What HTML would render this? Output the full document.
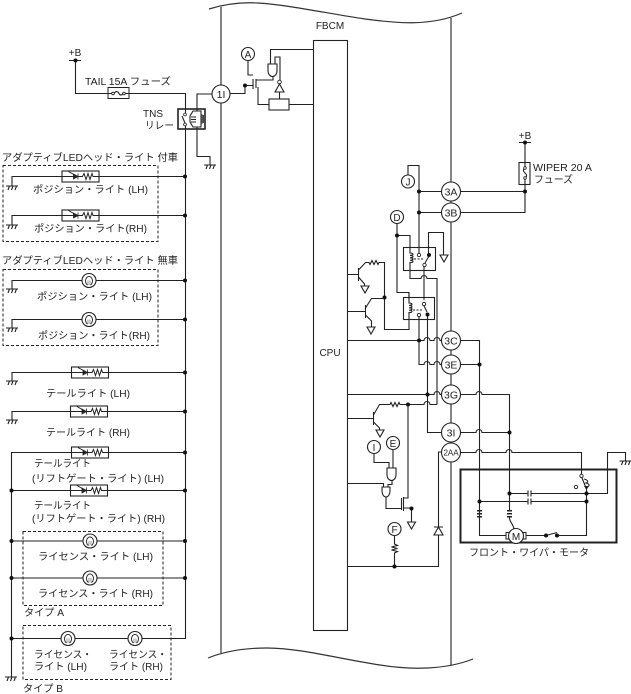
<!DOCTYPE html>
<html><head><meta charset="utf-8"><style>
html,body{margin:0;padding:0;background:#fff}
svg{display:block}
text{font-family:"Liberation Sans","Noto Sans CJK JP",sans-serif;font-size:10px;fill:#222}
.w{fill:none;stroke:#222;stroke-width:1.1}
.g{fill:none;stroke:#444;stroke-width:1.3}
.d{fill:none;stroke:#222;stroke-width:1;stroke-dasharray:3 2}
circle.n{fill:#fff;stroke:#222;stroke-width:1.1}
.c{text-anchor:middle}
.k{font-size:10.5px}
</style></head><body>
<svg width="631" height="694" viewBox="0 0 631 694" xmlns="http://www.w3.org/2000/svg">
<defs>
<g id="gnd"><path d="M-6 0H6M-4 4L-2.500 0M-0.500 4L1 0M3 4L4.500 0" fill="none" stroke="#222" stroke-width="1.100"/></g>
<g id="led">
<rect x="-18.500" y="-5.500" width="37" height="11" fill="#fff" stroke="#222" stroke-width="1.100"/>
<path d="M-18.500 0H2l1.500-3 2 6 2-6 2 6 2-6 1 3H18.500" fill="none" stroke="#222" stroke-width="1"/>
<path d="M-7-2.500V2.500L-2.500 0ZM-2.500-3V3" fill="#222" stroke="#222" stroke-width=".8"/>
<path d="M-12-5L-5-1" fill="none" stroke="#222" stroke-width="1"/>
</g>
<g id="bulb">
<circle r="7" fill="#fff" stroke="#222" stroke-width="1.100"/>
<path d="M-1.500 4.500A3.500 4.500 0 1 1 1.500 4.500" fill="#fff" stroke="#222" stroke-width=".9"/>
<path d="M-1 4.500V0M1 4.500V0" fill="none" stroke="#555" stroke-width=".6"/>
</g>
<path id="tri" d="M-4 0H4L0 7Z" fill="#fff" stroke="#222" stroke-width="1.100"/>
<circle id="dot" r="2" fill="#111"/>
</defs>

<!-- ECU body -->
<path d="M209 9C225 4 240 2 258 3C290 5 330 14 365 19C395 23 430 27 462 13" fill="none" stroke="#333" stroke-width="1.200"/>
<path d="M208 658C228 650 250 648 267 648C300 648 340 659 380 665C410 670 445 670 473 659" fill="none" stroke="#333" stroke-width="1.200"/>
<path class="g" d="M221 7V653M451 18V666"/>
<rect x="313.500" y="40.500" width="34" height="590" fill="#fff" stroke="#222" stroke-width="1.100"/>
<text x="330" y="29" class="c">FBCM</text>
<text x="330" y="356" class="c">CPU</text>

<!-- Left top wiring -->
<text x="75" y="56" class="c">+B</text>
<path class="w" d="M69 60.500H81M75.500 60.500V93.500H185.500V638.500H11.500V452M11.500 452.500H185.500M11.500 638.500V677"/>
<use href="#dot" x="75.500" y="60.500"/>
<rect x="108" y="87.500" width="21" height="11" fill="#fff" stroke="#222"/>
<path class="w" d="M108 93.500H112M125 93.500H129M114 93.500c2-3 4-2 5 0s3 2 4 0"/>
<circle cx="113" cy="93.500" r="1.300" fill="#fff" stroke="#222" stroke-width=".8"/><circle cx="124" cy="93.500" r="1.300" fill="#fff" stroke="#222" stroke-width=".8"/>
<text x="85" y="85" textLength="86" lengthAdjust="spacingAndGlyphs">TAIL 15A フューズ</text>
<text x="143" y="117">TNS</text>
<text x="145" y="129" textLength="29" lengthAdjust="spacingAndGlyphs">リレー</text>

<!-- TNS relay -->
<path class="w" d="M230 94H197V156.500H210V165"/>
<rect x="178" y="109" width="27" height="20" fill="#fff" stroke="#222" stroke-width="1.600"/>
<path class="w" d="M185.500 129V125M185.500 109V114M182 116L185 123"/>
<circle cx="185" cy="114.500" r="1.400" fill="#fff" stroke="#222" stroke-width=".8"/><circle cx="185" cy="124.500" r="1.400" fill="#fff" stroke="#222" stroke-width=".8"/>
<path class="w" d="M197 109V111H201V127H197V129M197 111H193L190 116V122L193 127H197M191 117H196M191 119.500H196M191 122H196M201 115a2.500 1 0 0 1 0 2a2.500 1 0 0 1 0 2a2.500 1 0 0 1 0 2a2.500 1 0 0 1 0 2"/>
<use href="#gnd" x="210" y="165"/>

<!-- Group 1 -->
<text x="2" y="161" textLength="176" lengthAdjust="spacingAndGlyphs">アダプティブLEDヘッド・ライト 付車</text>
<rect class="d" x="3" y="165.500" width="155" height="76"/>
<path class="w" d="M12 186V176.500H185M12 225V215.500H185"/>
<use href="#gnd" x="12" y="186"/><use href="#gnd" x="12" y="225"/>
<use href="#led" x="80.500" y="176.500"/><use href="#led" x="80.500" y="215.500"/>
<use href="#dot" x="185" y="176.500"/><use href="#dot" x="185" y="215.500"/>
<text x="33" y="193" textLength="115" lengthAdjust="spacingAndGlyphs">ポジション・ライト (LH)</text>
<text x="34" y="232" textLength="113" lengthAdjust="spacingAndGlyphs">ポジション・ライト(RH)</text>

<!-- Group 2 -->
<text x="2" y="264" textLength="176" lengthAdjust="spacingAndGlyphs">アダプティブLEDヘッド・ライト 無車</text>
<rect class="d" x="3" y="269.500" width="155" height="76"/>
<path class="w" d="M12 289V280.500H185M12 328V319.500H185"/>
<use href="#gnd" x="12" y="289"/><use href="#gnd" x="12" y="328"/>
<use href="#bulb" x="89" y="280.500"/><use href="#bulb" x="89" y="319.500"/>
<use href="#dot" x="185" y="280.500"/><use href="#dot" x="185" y="319.500"/>
<text x="37" y="300" textLength="115" lengthAdjust="spacingAndGlyphs">ポジション・ライト (LH)</text>
<text x="38" y="339" textLength="112" lengthAdjust="spacingAndGlyphs">ポジション・ライト(RH)</text>

<!-- Tail lamps -->
<path class="w" d="M12 381V372.500H185M12 420V411.500H185"/>
<use href="#gnd" x="12" y="381"/><use href="#gnd" x="12" y="420"/>
<use href="#led" x="90" y="372.500"/><use href="#led" x="89" y="411.500"/>
<use href="#dot" x="185" y="372.500"/><use href="#dot" x="185" y="411.500"/>
<text x="46" y="397" textLength="84" lengthAdjust="spacingAndGlyphs">テールライト (LH)</text>
<text x="46" y="436" textLength="84" lengthAdjust="spacingAndGlyphs">テールライト (RH)</text>
<use href="#led" x="90" y="452.500"/><use href="#dot" x="185" y="452.500"/>
<text x="34" y="467" textLength="57" lengthAdjust="spacingAndGlyphs">テールライト</text>
<text x="32" y="482" textLength="132" lengthAdjust="spacingAndGlyphs">(リフトゲート・ライト) (LH)</text>
<path class="w" d="M11.500 490.500H185"/>
<use href="#led" x="89" y="490.500"/><use href="#dot" x="11.500" y="490.500"/><use href="#dot" x="185" y="490.500"/>
<text x="34" y="509" textLength="57" lengthAdjust="spacingAndGlyphs">テールライト</text>
<text x="32" y="522" textLength="133" lengthAdjust="spacingAndGlyphs">(リフトゲート・ライト) (RH)</text>

<!-- Type A -->
<rect class="d" x="23" y="531.500" width="140" height="74"/>
<path class="w" d="M11.500 541H185M11.500 578H185"/>
<use href="#bulb" x="90" y="541"/><use href="#bulb" x="90" y="578"/>
<use href="#dot" x="11.500" y="541"/><use href="#dot" x="185" y="541"/><use href="#dot" x="11.500" y="578"/><use href="#dot" x="185" y="578"/>
<text x="38" y="560" textLength="115" lengthAdjust="spacingAndGlyphs">ライセンス・ライト (LH)</text>
<text x="38" y="597" textLength="115" lengthAdjust="spacingAndGlyphs">ライセンス・ライト (RH)</text>
<text x="24" y="616" textLength="40" lengthAdjust="spacingAndGlyphs">タイプ A</text>

<!-- Type B -->
<rect class="d" x="23" y="625.500" width="148" height="54"/>
<use href="#bulb" x="68" y="638.500"/><use href="#bulb" x="135" y="638.500"/>
<use href="#dot" x="11.500" y="638.500"/>
<text x="34" y="658" textLength="58" lengthAdjust="spacingAndGlyphs">ライセンス・</text>
<text x="34" y="670" textLength="53" lengthAdjust="spacingAndGlyphs">ライト (LH)</text>
<text x="109" y="658" textLength="58" lengthAdjust="spacingAndGlyphs">ライセンス・</text>
<text x="109" y="670" textLength="54" lengthAdjust="spacingAndGlyphs">ライト (RH)</text>
<text x="23" y="692" textLength="40" lengthAdjust="spacingAndGlyphs">タイプ B</text>
<use href="#gnd" x="11" y="677"/>

<!-- Top inner circuit -->
<path class="w" d="M248 60V75H253M230 93.500H245V85.500H253M253 79V89M256 79V88M256 80H273V76M258 87V104.500H269M289 104.500H313M270.500 64V49.500H313M275 64V57H280V80M279.500 92V99"/>
<use href="#dot" x="245" y="85.500"/>
<path d="M268 64H277V71A4.500 5.500 0 0 1 268 71Z" fill="#fff" stroke="#222" stroke-width="1.100"/>
<circle cx="279.500" cy="82" r="1.800" fill="#fff" stroke="#222" stroke-width=".9"/>
<path d="M279.500 84L275 92H284Z" fill="#fff" stroke="#222" stroke-width="1.100"/>
<rect x="269" y="99" width="20" height="11" fill="#fff" stroke="#222" stroke-width="1.100"/>

<!-- Right +B -->
<text x="525" y="139" class="c">+B</text>
<path class="w" d="M519 142.500H531M525 142.500V212.500H419M525 191.500H419"/>
<use href="#dot" x="525" y="142.500"/><use href="#dot" x="525" y="191.500"/>
<rect x="519" y="162.500" width="11" height="22" fill="#fff" stroke="#222" stroke-width="1.100"/>
<path class="w" d="M525 162.500V168M525 178V184.500M525 168c-3 2-1 4 0 5s3 3 0 5"/>
<circle cx="525" cy="168" r="1.300" fill="#fff" stroke="#222" stroke-width=".8"/><circle cx="525" cy="178" r="1.300" fill="#fff" stroke="#222" stroke-width=".8"/>
<text x="533" y="171" textLength="59" lengthAdjust="spacingAndGlyphs">WIPER 20 A</text>
<text x="534" y="183" textLength="39" lengthAdjust="spacingAndGlyphs">フューズ</text>

<!-- J / D wires -->
<path class="w" d="M408 175V165.500H419V255"/>
<use href="#dot" x="419" y="191.500"/><use href="#dot" x="419" y="212.500"/>
<path class="w" d="M397 223V292.500H409V300M397 235.500H410V247M428.500 255V232.500H443.500V256"/>
<use href="#dot" x="397" y="235.500"/>
<use href="#tri" x="444" y="255"/>

<!-- Relay 1 -->
<rect x="403.500" y="247.500" width="32" height="23" fill="none" stroke="#222" stroke-width="1.100"/>
<path class="w" d="M410 247V253a3 1.200 0 0 1 0 2.400a3 1.200 0 0 1 0 2.400a3 1.200 0 0 1 0 2.400a3 1.200 0 0 1 0 2.400V278.500H421a3 3 0 0 1 6 0H437V404.500M424 264V300M429 256L425 263"/>
<path d="M414 259H423" stroke="#222" stroke-dasharray="2 1.500" fill="none"/>
<circle cx="419" cy="255" r="1.700" fill="#fff" stroke="#222" stroke-width=".9"/><use href="#dot" x="429" y="255"/>
<circle cx="424.500" cy="265" r="1.700" fill="#fff" stroke="#222" stroke-width=".9"/>

<!-- Relay 2 -->
<rect x="403.500" y="297.500" width="31" height="22" fill="none" stroke="#222" stroke-width="1.100"/>
<path class="w" d="M409 292.500V303a3 1.200 0 0 1 0 2.400a3 1.200 0 0 1 0 2.400a3 1.200 0 0 1 0 2.400a3 1.200 0 0 1 0 2.400V329.500H384.500V262.500H379l-1 2-2-4-2 4-2-4-2 4-1-2H365.500L358.500 270M424 306L427 312M419 316V364.500H424a3 3 0 0 1 6 0H434a3 3 0 0 1 6 0H442M427.500 314V432.500H442"/>
<path d="M413 310H422" stroke="#222" stroke-dasharray="2 1.500" fill="none"/>
<circle cx="424" cy="304" r="1.700" fill="#fff" stroke="#222" stroke-width=".9"/><circle cx="419" cy="315" r="1.700" fill="#fff" stroke="#222" stroke-width=".9"/><use href="#dot" x="427.500" y="314.500"/>
<use href="#dot" x="384.500" y="297.500"/>

<!-- Transistors -->
<path class="w" d="M347 274.500H358M358.500 268V281M358.500 277L364.500 284V286M347 311.500H365M365.500 305V318M365.500 308L371.500 298.500H384M365.500 315L371.500 321V327"/>
<use href="#tri" x="365" y="286"/><use href="#tri" x="371" y="327"/>
<path class="w" d="M347 340.500H424a3 3 0 0 1 6 0H434a3 3 0 0 1 6 0H442M347 394.500H434a3 3 0 0 1 6 0H442M347 418.500H373M373.500 412V425M373.500 415L379.500 404.500H390l1-2 2 4 2-4 2 4 2-4 1 2H424a3 3 0 0 1 6 0H437M373.500 422L379.500 428V430"/>
<use href="#tri" x="380" y="430"/>
<use href="#dot" x="419" y="340.500"/><use href="#dot" x="427.500" y="394.500"/><use href="#dot" x="408" y="404.500"/>
<path class="w" d="M408 404.500V498H403.500M403.500 508H411.500V522M386 497V508.500H401M401.500 498V510M403.500 497V511"/>
<use href="#dot" x="411.500" y="508.500"/><use href="#tri" x="411.500" y="522"/>

<!-- Gates -->
<path class="w" d="M374 454V462.500H389V468M393 450V468M347 483.500H383.500V487M392 480V484.500H388V487"/>
<path d="M387 468H396V475A4.500 5.500 0 0 1 387 475Z" fill="#fff" stroke="#222" stroke-width="1.100"/>
<path d="M382 487H390V491A4 6 0 0 1 386 497A4 6 0 0 1 382 491Z" fill="#fff" stroke="#222" stroke-width="1.100"/>

<!-- F and diode -->
<path class="w" d="M394.500 536V544l3 1.500-6 1.500 6 1.500-6 1.500 6 1.500-3 1.500V566M347 566.500H438.500V452H442"/>
<use href="#dot" x="394.500" y="566.500"/>
<path d="M434 527H443M438.500 527L434 535H443Z" fill="#fff" stroke="#222" stroke-width="1.100"/>

<!-- Right wires -->
<path class="w" d="M460 340.500H479.500V535.500H586.500V488M460 364.500H479M460 394.500H476a3 3 0 0 1 6 0H509.500V510M460 432.500H476a3 3 0 0 1 6 0H509M460 452.500H476a3 3 0 0 1 6 0H506a3 3 0 0 1 6 0H581.500V474"/>
<use href="#dot" x="479.500" y="364.500"/><use href="#dot" x="509.500" y="432.500"/>

<!-- Motor unit -->
<rect x="460.500" y="469.500" width="156" height="73" fill="none" stroke="#222" stroke-width="2"/>
<text x="469" y="556" textLength="120" lengthAdjust="spacingAndGlyphs">フロント・ワイパ・モータ</text>
<path class="w" d="M509 493.500H528M531 493.500H607.500V452.500H625.500V461M479 501.500H528M531 501.500H586.500M528 490.500V496.500M531 490.500V496.500M528 498.500V504.500M531 498.500V504.500"/>
<use href="#gnd" x="625.500" y="461"/>
<use href="#dot" x="509.500" y="493.500"/><use href="#dot" x="586.500" y="493.500"/><use href="#dot" x="479.500" y="501.500"/><use href="#dot" x="586.500" y="501.500"/>
<path d="M477 510H482V511.500H477ZM477 513H482V514.500H477ZM477 516H482V517.500H477ZM507 510H512V511.500H507ZM507 513H512V514.500H507ZM507 516H512V517.500H507Z" fill="#222"/>
<path class="w" d="M509.500 517C509 522 513 523 514 529"/>
<rect x="506" y="532.500" width="20" height="6.500" fill="#fff" stroke="#222"/>
<circle cx="516" cy="536" r="7.500" fill="#fff" stroke="#222" stroke-width="1.100"/>
<text x="516" y="540" class="c">M</text>
<rect x="548" y="534" width="7" height="3" fill="#fff"/>
<path class="w" d="M546 535.500L557 532.500"/>
<use href="#dot" x="546" y="535.500"/><use href="#dot" x="557" y="535.500"/>
<circle cx="581.500" cy="476" r="1.700" fill="#fff" stroke="#222" stroke-width=".9"/>
<circle cx="576" cy="487" r="1.700" fill="#fff" stroke="#222" stroke-width=".9"/>
<path class="w" d="M582 478L586.500 489M584 479c4 1 5 3 2 4c4 1 4 3 1 4"/>
<path d="M584 486H589L586.500 490Z" fill="#222"/>

<!-- Connector circles -->
<circle class="n" cx="221" cy="94" r="9"/><text x="221" y="98" class="c k">1I</text>
<circle class="n" cx="248" cy="54" r="6.500"/><text x="248" y="58" class="c">A</text>
<circle class="n" cx="408" cy="181.500" r="6.500"/><text x="408" y="185.500" class="c">J</text>
<circle class="n" cx="397" cy="217" r="6.500"/><text x="397" y="221" class="c">D</text>
<circle class="n" cx="374" cy="447" r="6.500"/><text x="374" y="451" class="c">I</text>
<circle class="n" cx="393" cy="443" r="6.500"/><text x="393" y="447" class="c">E</text>
<circle class="n" cx="394.500" cy="529" r="6.500"/><text x="394.500" y="533" class="c">F</text>
<circle class="n" cx="451" cy="191.500" r="9.500"/><text x="451" y="195.500" class="c k">3A</text>
<circle class="n" cx="451" cy="212.500" r="9.500"/><text x="451" y="216.500" class="c k">3B</text>
<circle class="n" cx="451" cy="340.500" r="9.500"/><text x="451" y="344.500" class="c k">3C</text>
<circle class="n" cx="451" cy="364.500" r="9.500"/><text x="451" y="368.500" class="c k">3E</text>
<circle class="n" cx="451" cy="394.500" r="9.500"/><text x="451" y="398.500" class="c k">3G</text>
<circle class="n" cx="451" cy="432.500" r="9.500"/><text x="451" y="436.500" class="c k">3I</text>
<circle class="n" cx="451" cy="452.500" r="9.500"/><text x="451" y="455.500" class="c" style="font-size:8px">2AA</text>
</svg>
</body></html>
